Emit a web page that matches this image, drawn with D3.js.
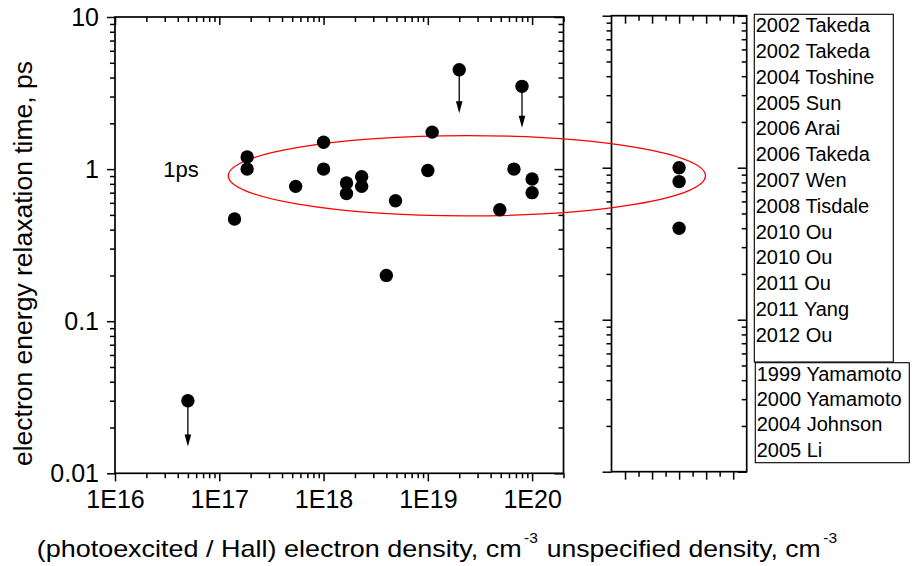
<!DOCTYPE html>
<html><head><meta charset="utf-8">
<script src="https://cdn.jsdelivr.net/npm/d3@7"></script>
<style>
body{margin:0;background:#fff}
svg{display:block}
text{font-family:"Liberation Sans",Arial,Helvetica,sans-serif;fill:#000}
</style>
</head><body>
<svg id="chart" width="912" height="566"></svg>
<script>
// ---------- data ----------
const densities = [5e16, 1.4e17, 1.85e17, 1.85e17, 5.4e17, 1e18, 1e18, 1.66e18, 1.66e18, 2.32e18, 2.32e18, 4e18, 4.9e18, 1e19, 1.1e19, 2e19, 4.9e19, 6.7e19, 8e19, 1e20, 1e20];
const times     = [0.03, 0.47, 1.2, 1.0, 0.77, 1.5, 1.0, 0.81, 0.69, 0.89, 0.77, 0.2, 0.62, 0.98, 1.75, 4.5, 0.54, 1.0, 3.5, 0.86, 0.70];
// upper-limit points (arrows pointing down)
const limitDensities = [5e16, 2e19, 8e19];
const limitTimes     = [0.03, 4.5, 3.5];
const limitArrowTo   = [0.015, 2.33, 1.87];
// unspecified density panel
const unspecPositions = [3, 3, 3];
const unspecTimes     = [1.0, 0.81, 0.40];
// tick labels
const xTickValues = [1e16, 1e17, 1e18, 1e19, 1e20];
const xTickLabels = ["1E16", "1E17", "1E18", "1E19", "1E20"];
const yTickValues = [10, 1, 0.1, 0.01];
const yTickLabels = ["10", "1", "0.1", "0.01"];
// legends
const legendMeasured = ["2002 Takeda","2002 Takeda","2004 Toshine","2005 Sun","2006 Arai","2006 Takeda","2007 Wen","2008 Tisdale","2010 Ou","2010 Ou","2011 Ou","2011 Yang","2012 Ou"];
const legendUnspec = ["1999 Yamamoto","2000 Yamamoto","2004 Johnson","2005 Li"];
// ellipse annotation (in data units of main panel)
const ellipseX = [1.22e17, 4.6e21];
const ellipseY = [0.492, 1.66];

// ---------- layout ----------
const svg = d3.select("#chart");
const M = {left:115, right:563.5, top:17, bottom:473.3};
const R = {left:611.5, right:746.7, top:15.7, bottom:471.7};

const x = d3.scaleLog().domain([1e16, 2e20]).range([M.left, M.right]);
const y = d3.scaleLog().domain([0.01, 10]).range([M.bottom, M.top]);
const xr = d3.scaleLinear().domain([0.5, 5.5]).range([R.left, R.right]);
const yr = d3.scaleLog().domain([0.01, 10]).range([R.bottom, R.top]);

function logMinors(lo, hi){
  const out=[];
  for(let d=Math.floor(Math.log10(lo)); d<=Math.ceil(Math.log10(hi)); d++){
    for(let k=2;k<=9;k++){const v=k*Math.pow(10,d); if(v>lo*1.0001 && v<=hi*1.0001) out.push(v);}
  }
  return out;
}
const xMinor = logMinors(1e16, 2e20);
const yMinor = logMinors(0.01, 10);

function drawAxis(gen, tx, ty, values, size, fmt, pad){
  const a = gen.tickValues(values).tickSize(size).tickPadding(pad||8).tickFormat(fmt||"");
  const g = svg.append("g").attr("transform",`translate(${tx},${ty})`).call(a);
  g.select(".domain").remove();
  g.selectAll("line").attr("stroke","#000").attr("stroke-width",1.5);
  g.selectAll("text").attr("font-size",25).attr("font-family",'"Liberation Sans",Arial,sans-serif').attr("fill","#000");
  return g;
}

// ---- main panel axes ----
drawAxis(d3.axisBottom(x), 0, M.bottom, xTickValues, 8, (d,i)=>xTickLabels[i], 9);
drawAxis(d3.axisBottom(x), 0, M.bottom, xMinor, 5);
drawAxis(d3.axisBottom(x), 0, M.top, xTickValues, 8);
drawAxis(d3.axisBottom(x), 0, M.top, xMinor, 5);
drawAxis(d3.axisLeft(y), M.left, 0, yTickValues, 8, (d,i)=>yTickLabels[i], 8);
drawAxis(d3.axisLeft(y), M.left, 0, yMinor, 5);
drawAxis(d3.axisLeft(y), M.right, 0, yTickValues, 9);
drawAxis(d3.axisLeft(y), M.right, 0, yMinor, 5);
svg.append("rect").attr("x",M.left).attr("y",M.top).attr("width",M.right-M.left).attr("height",M.bottom-M.top)
  .attr("fill","none").attr("stroke","#000").attr("stroke-width",1.7);

// ---- right panel axes ----
const rMajor=[1,2,3,4,5], rMinor=[1.5,2.5,3.5,4.5];
drawAxis(d3.axisBottom(xr), 0, R.bottom, rMajor, 8);
drawAxis(d3.axisBottom(xr), 0, R.bottom, rMinor, 5);
drawAxis(d3.axisBottom(xr), 0, R.top, rMajor, 8);
drawAxis(d3.axisBottom(xr), 0, R.top, rMinor, 5);
drawAxis(d3.axisLeft(yr), R.left, 0, yTickValues, 9);
drawAxis(d3.axisLeft(yr), R.left, 0, yMinor, 5);
drawAxis(d3.axisLeft(yr), R.right, 0, yTickValues, 9);
drawAxis(d3.axisLeft(yr), R.right, 0, yMinor, 5);
svg.append("rect").attr("x",R.left).attr("y",R.top).attr("width",R.right-R.left).attr("height",R.bottom-R.top)
  .attr("fill","none").attr("stroke","#000").attr("stroke-width",1.7);

// ---- ellipse ----
const ex0=x(ellipseX[0]), ex1=x(ellipseX[1]), ey0=y(ellipseY[1]), ey1=y(ellipseY[0]);
svg.append("ellipse").attr("cx",(ex0+ex1)/2).attr("cy",(ey0+ey1)/2)
  .attr("rx",(ex1-ex0)/2).attr("ry",(ey1-ey0)/2)
  .attr("fill","none").attr("stroke","#ff0000").attr("stroke-width",1.3);

// ---- arrows ----
const arrows = svg.append("g");
limitDensities.forEach((d,i)=>{
  const px=x(d), py0=y(limitTimes[i]), py1=y(limitArrowTo[i]);
  arrows.append("line").attr("x1",px).attr("x2",px).attr("y1",py0).attr("y2",py1-6)
    .attr("stroke","#000").attr("stroke-width",1.3);
  arrows.append("path").attr("d",`M${px-3.3},${py1-12} L${px+3.3},${py1-12} L${px},${py1} Z`).attr("fill","#000");
});

// ---- points ----
svg.append("g").selectAll("circle").data(densities).join("circle")
  .attr("cx",d=>x(d)).attr("cy",(d,i)=>y(times[i])).attr("r",6.7).attr("fill","#000");
svg.append("g").selectAll("circle").data(unspecPositions).join("circle")
  .attr("cx",d=>xr(d)).attr("cy",(d,i)=>yr(unspecTimes[i])).attr("r",6.7).attr("fill","#000");

// ---- annotation ----
svg.append("text").attr("x",163.3).attr("y",176.7).attr("font-size",22).text("1ps");

// ---- axis titles ----
svg.append("text").attr("transform","translate(31.5,263.5) rotate(-90)").attr("text-anchor","middle")
  .attr("font-size",26.5).text("electron energy relaxation time, ps");
svg.append("text").attr("x",36.7).attr("y",556.7).attr("font-size",24)
  .attr("textLength",485).attr("lengthAdjust","spacingAndGlyphs").text("(photoexcited / Hall) electron density, cm");
svg.append("text").attr("x",524).attr("y",543).attr("font-size",15.5).text("-3");
svg.append("text").attr("x",546.7).attr("y",556.7).attr("font-size",24)
  .attr("textLength",274).attr("lengthAdjust","spacingAndGlyphs").text("unspecified density, cm");
svg.append("text").attr("x",823.3).attr("y",543).attr("font-size",15.5).text("-3");

// ---- legends ----
svg.append("rect").attr("x",754.3).attr("y",14.3).attr("width",893.3-754.3).attr("height",362-14.3)
  .attr("fill","#fff").attr("stroke","#000").attr("stroke-width",1.1);
svg.append("g").selectAll("text").data(legendMeasured).join("text")
  .attr("x",755.7).attr("y",(d,i)=>32.3+i*25.78).attr("font-size",20).text(d=>d);
svg.append("rect").attr("x",755.3).attr("y",362.7).attr("width",909.3-755.3).attr("height",462.7-362.7)
  .attr("fill","#fff").attr("stroke","#000").attr("stroke-width",1.1);
svg.append("g").selectAll("text").data(legendUnspec).join("text")
  .attr("x",756.7).attr("y",(d,i)=>380.7+i*25.33).attr("font-size",20).text(d=>d);
</script>
</body></html>
